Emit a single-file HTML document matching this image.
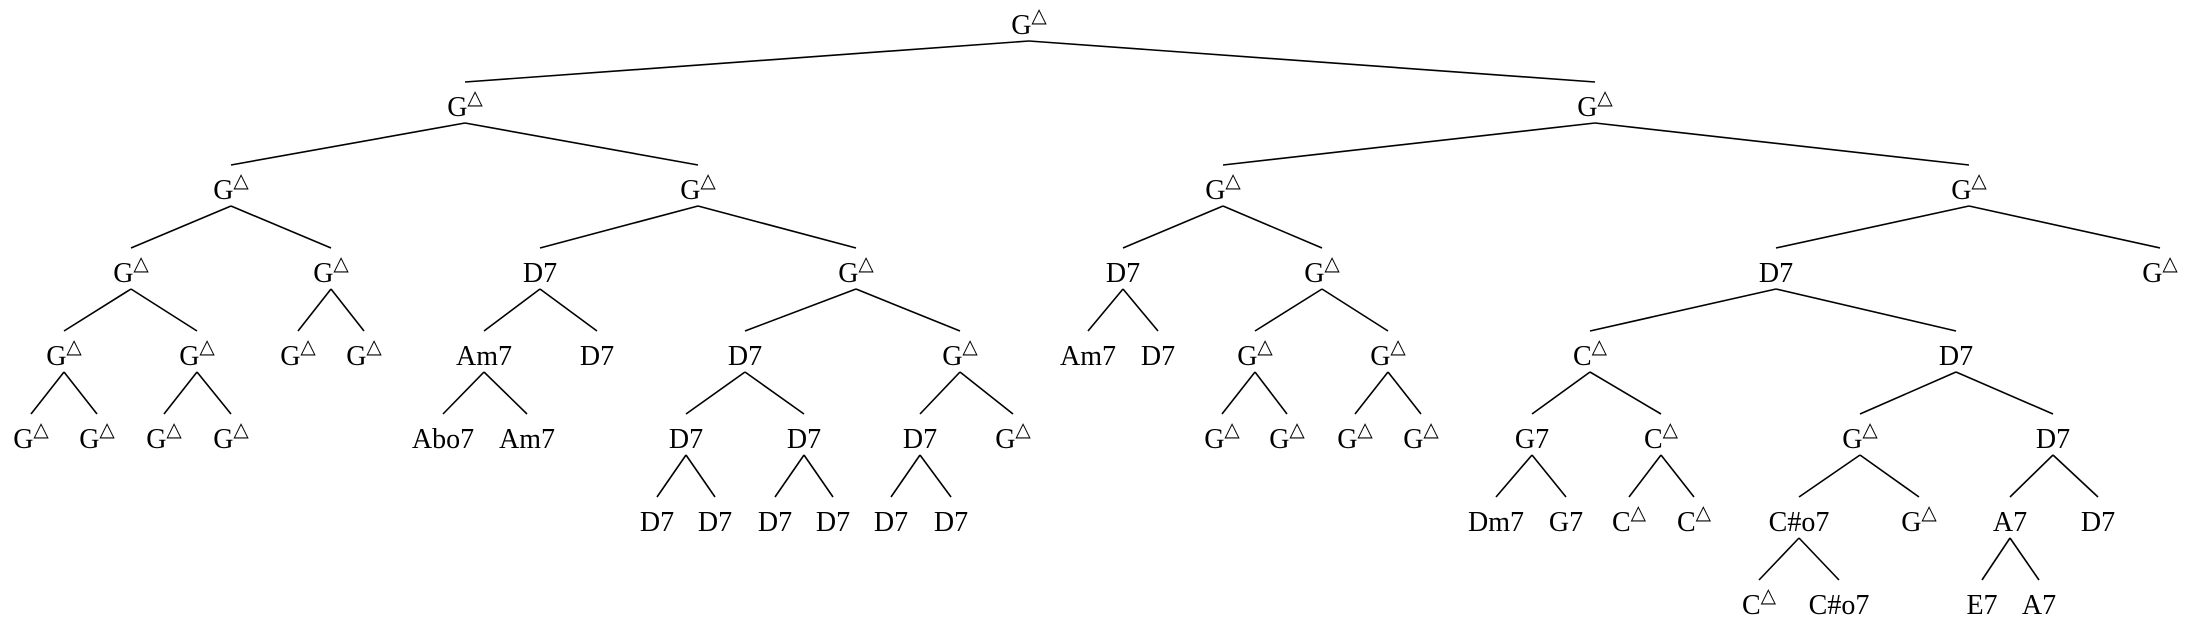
<!DOCTYPE html>
<html><head><meta charset="utf-8"><style>
html,body{margin:0;padding:0;background:#fff;}
svg{display:block;}
text{font-family:"Liberation Serif",serif;font-size:28px;fill:#000;text-anchor:middle;}
.s{font-size:20px;font-family:"DejaVu Sans",sans-serif;}
line{stroke:#000;stroke-width:1.6;}
</style></head><body>
<svg width="2191" height="628" viewBox="0 0 2191 628">
<line x1="1029" y1="41" x2="465" y2="82"/><line x1="1029" y1="41" x2="1595" y2="82"/>
<line x1="465" y1="123" x2="231" y2="165"/><line x1="465" y1="123" x2="698" y2="165"/>
<line x1="1595" y1="123" x2="1223" y2="165"/><line x1="1595" y1="123" x2="1969" y2="165"/>
<line x1="231" y1="206" x2="131" y2="248"/><line x1="231" y1="206" x2="331" y2="248"/>
<line x1="698" y1="206" x2="540" y2="248"/><line x1="698" y1="206" x2="856" y2="248"/>
<line x1="1223" y1="206" x2="1123" y2="248"/><line x1="1223" y1="206" x2="1322" y2="248"/>
<line x1="1969" y1="206" x2="1776" y2="248"/><line x1="1969" y1="206" x2="2160" y2="248"/>
<line x1="131" y1="289" x2="64" y2="331"/><line x1="131" y1="289" x2="197" y2="331"/>
<line x1="331" y1="289" x2="298" y2="331"/><line x1="331" y1="289" x2="364" y2="331"/>
<line x1="540" y1="289" x2="484" y2="331"/><line x1="540" y1="289" x2="597" y2="331"/>
<line x1="856" y1="289" x2="745" y2="331"/><line x1="856" y1="289" x2="960" y2="331"/>
<line x1="1123" y1="289" x2="1088" y2="331"/><line x1="1123" y1="289" x2="1158" y2="331"/>
<line x1="1322" y1="289" x2="1255" y2="331"/><line x1="1322" y1="289" x2="1388" y2="331"/>
<line x1="1776" y1="289" x2="1590" y2="331"/><line x1="1776" y1="289" x2="1956" y2="331"/>
<line x1="64" y1="372" x2="31" y2="414"/><line x1="64" y1="372" x2="97" y2="414"/>
<line x1="197" y1="372" x2="164" y2="414"/><line x1="197" y1="372" x2="231" y2="414"/>
<line x1="484" y1="372" x2="443" y2="414"/><line x1="484" y1="372" x2="527" y2="414"/>
<line x1="745" y1="372" x2="686" y2="414"/><line x1="745" y1="372" x2="804" y2="414"/>
<line x1="960" y1="372" x2="920" y2="414"/><line x1="960" y1="372" x2="1013" y2="414"/>
<line x1="1255" y1="372" x2="1222" y2="414"/><line x1="1255" y1="372" x2="1287" y2="414"/>
<line x1="1388" y1="372" x2="1355" y2="414"/><line x1="1388" y1="372" x2="1421" y2="414"/>
<line x1="1590" y1="372" x2="1532" y2="414"/><line x1="1590" y1="372" x2="1661" y2="414"/>
<line x1="1956" y1="372" x2="1860" y2="414"/><line x1="1956" y1="372" x2="2053" y2="414"/>
<line x1="686" y1="455" x2="657" y2="497"/><line x1="686" y1="455" x2="715" y2="497"/>
<line x1="804" y1="455" x2="775" y2="497"/><line x1="804" y1="455" x2="833" y2="497"/>
<line x1="920" y1="455" x2="891" y2="497"/><line x1="920" y1="455" x2="951" y2="497"/>
<line x1="1532" y1="455" x2="1496" y2="497"/><line x1="1532" y1="455" x2="1566" y2="497"/>
<line x1="1661" y1="455" x2="1629" y2="497"/><line x1="1661" y1="455" x2="1694" y2="497"/>
<line x1="1860" y1="455" x2="1799" y2="497"/><line x1="1860" y1="455" x2="1919" y2="497"/>
<line x1="2053" y1="455" x2="2010" y2="497"/><line x1="2053" y1="455" x2="2098" y2="497"/>
<line x1="1799" y1="538" x2="1759" y2="580"/><line x1="1799" y1="538" x2="1839" y2="580"/>
<line x1="2010" y1="538" x2="1982" y2="580"/><line x1="2010" y1="538" x2="2039" y2="580"/>

<text x="1029" y="34">G<tspan class="s" dy="-12">△</tspan></text>
<text x="465" y="116">G<tspan class="s" dy="-12">△</tspan></text>
<text x="1595" y="116">G<tspan class="s" dy="-12">△</tspan></text>

<text x="231" y="199">G<tspan class="s" dy="-12">△</tspan></text>
<text x="698" y="199">G<tspan class="s" dy="-12">△</tspan></text>
<text x="1223" y="199">G<tspan class="s" dy="-12">△</tspan></text>
<text x="1969" y="199">G<tspan class="s" dy="-12">△</tspan></text>

<text x="131" y="282">G<tspan class="s" dy="-12">△</tspan></text>
<text x="331" y="282">G<tspan class="s" dy="-12">△</tspan></text>
<text x="540" y="282">D7</text>
<text x="856" y="282">G<tspan class="s" dy="-12">△</tspan></text>
<text x="1123" y="282">D7</text>
<text x="1322" y="282">G<tspan class="s" dy="-12">△</tspan></text>
<text x="1776" y="282">D7</text>
<text x="2160" y="282">G<tspan class="s" dy="-12">△</tspan></text>

<text x="64" y="365">G<tspan class="s" dy="-12">△</tspan></text>
<text x="197" y="365">G<tspan class="s" dy="-12">△</tspan></text>
<text x="298" y="365">G<tspan class="s" dy="-12">△</tspan></text>
<text x="364" y="365">G<tspan class="s" dy="-12">△</tspan></text>
<text x="484" y="365">Am7</text>
<text x="597" y="365">D7</text>
<text x="745" y="365">D7</text>
<text x="960" y="365">G<tspan class="s" dy="-12">△</tspan></text>
<text x="1088" y="365">Am7</text>
<text x="1158" y="365">D7</text>
<text x="1255" y="365">G<tspan class="s" dy="-12">△</tspan></text>
<text x="1388" y="365">G<tspan class="s" dy="-12">△</tspan></text>
<text x="1590" y="365">C<tspan class="s" dy="-12">△</tspan></text>
<text x="1956" y="365">D7</text>

<text x="31" y="448">G<tspan class="s" dy="-12">△</tspan></text>
<text x="97" y="448">G<tspan class="s" dy="-12">△</tspan></text>
<text x="164" y="448">G<tspan class="s" dy="-12">△</tspan></text>
<text x="231" y="448">G<tspan class="s" dy="-12">△</tspan></text>
<text x="443" y="448">Abo7</text>
<text x="527" y="448">Am7</text>
<text x="686" y="448">D7</text>
<text x="804" y="448">D7</text>
<text x="920" y="448">D7</text>
<text x="1013" y="448">G<tspan class="s" dy="-12">△</tspan></text>
<text x="1222" y="448">G<tspan class="s" dy="-12">△</tspan></text>
<text x="1287" y="448">G<tspan class="s" dy="-12">△</tspan></text>
<text x="1355" y="448">G<tspan class="s" dy="-12">△</tspan></text>
<text x="1421" y="448">G<tspan class="s" dy="-12">△</tspan></text>
<text x="1532" y="448">G7</text>
<text x="1661" y="448">C<tspan class="s" dy="-12">△</tspan></text>
<text x="1860" y="448">G<tspan class="s" dy="-12">△</tspan></text>
<text x="2053" y="448">D7</text>

<text x="657" y="531">D7</text>
<text x="715" y="531">D7</text>
<text x="775" y="531">D7</text>
<text x="833" y="531">D7</text>
<text x="891" y="531">D7</text>
<text x="951" y="531">D7</text>
<text x="1496" y="531">Dm7</text>
<text x="1566" y="531">G7</text>
<text x="1629" y="531">C<tspan class="s" dy="-12">△</tspan></text>
<text x="1694" y="531">C<tspan class="s" dy="-12">△</tspan></text>
<text x="1799" y="531">C#o7</text>
<text x="1919" y="531">G<tspan class="s" dy="-12">△</tspan></text>
<text x="2010" y="531">A7</text>
<text x="2098" y="531">D7</text>

<text x="1759" y="614">C<tspan class="s" dy="-12">△</tspan></text>
<text x="1839" y="614">C#o7</text>
<text x="1982" y="614">E7</text>
<text x="2039" y="614">A7</text>
</svg>
</body></html>
